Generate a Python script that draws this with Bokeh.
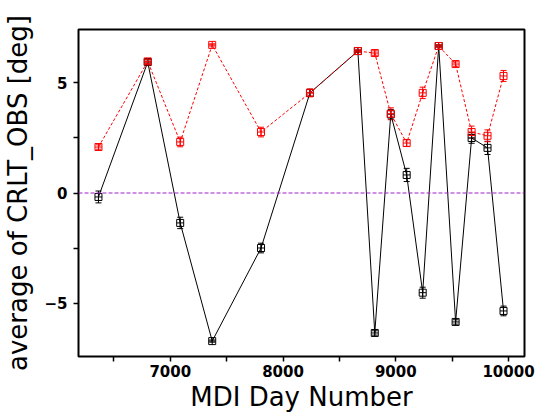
from bokeh.plotting import figure
from bokeh.models import ColumnDataSource, Whisker, TeeHead, Span, FixedTicker
from bokeh.embed import file_html
from bokeh.resources import INLINE

# Data
mdi_day = [6363, 6800, 7088, 7372, 7805, 8239, 8664, 8814, 8956, 9097,
           9239, 9381, 9531, 9673, 9814, 9956]
crlt_mean = [-0.18, 5.95, -1.36, -6.73, -2.50, 4.55, 6.45, -6.36, 3.58, 0.82,
             -4.53, 6.68, -5.86, 2.50, 2.05, -5.36]
crlt_mean_err = [0.27, 0.10, 0.26, 0.05, 0.22, 0.15, 0.05, 0.10, 0.22, 0.30,
                 0.25, 0.05, 0.10, 0.24, 0.30, 0.22]
crlt_abs = [2.09, 5.98, 2.32, 6.73, 2.77, 4.55, 6.45, 6.36, 3.60, 2.27,
            4.55, 6.68, 5.86, 2.77, 2.60, 5.32]
crlt_abs_err = [0.10, 0.10, 0.22, 0.05, 0.22, 0.18, 0.05, 0.10, 0.27, 0.15,
                0.26, 0.05, 0.10, 0.27, 0.27, 0.25]

x_major = [7000, 8000, 9000, 10000]
x_minor = [6500, 7500, 8500, 9500]
y_major = [-5, 0, 5]
y_minor = [-2.5, 2.5]

blk = ColumnDataSource(dict(
    x=mdi_day, y=crlt_mean,
    lo=[v - e for v, e in zip(crlt_mean, crlt_mean_err)],
    hi=[v + e for v, e in zip(crlt_mean, crlt_mean_err)]))
red = ColumnDataSource(dict(
    x=mdi_day, y=crlt_abs,
    lo=[v - e for v, e in zip(crlt_abs, crlt_abs_err)],
    hi=[v + e for v, e in zip(crlt_abs, crlt_abs_err)]))

p = figure(width=551, height=416, x_range=(6186, 10142), y_range=(-7.43, 7.43),
           output_backend="svg", toolbar_location=None,
           min_border_left=78, min_border_right=27, min_border_top=29,
           min_border_bottom=60)
p.background_fill_color = "white"
p.border_fill_color = "white"
p.outline_line_color = "black"
p.outline_line_width = 2
p.xgrid.visible = False
p.ygrid.visible = False

p.add_layout(Span(location=0, dimension="width", line_color="#a020c8",
                  line_dash="4 2", line_width=1.2))

# black series
p.line("x", "y", source=blk, line_color="black", line_width=1)
p.add_layout(Whisker(source=blk, base="x", lower="lo", upper="hi",
                     dimension="height", line_color="black", line_width=1,
                     lower_head=TeeHead(size=6, line_color="black", line_width=1),
                     upper_head=TeeHead(size=6, line_color="black", line_width=1)))
p.scatter("x", "y", source=blk, marker="square_cross", size=7,
          line_color="black", fill_color=None, line_width=1)

# red series
p.line("x", "y", source=red, line_color="red", line_width=1, line_dash="3 2")
p.add_layout(Whisker(source=red, base="x", lower="lo", upper="hi",
                     dimension="height", line_color="red", line_width=1,
                     lower_head=TeeHead(size=6, line_color="red", line_width=1),
                     upper_head=TeeHead(size=6, line_color="red", line_width=1)))
p.scatter("x", "y", source=red, marker="square_cross", size=7,
          line_color="red", fill_color=None, line_width=1)

for ax, maj, mnr in ((p.xaxis[0], x_major, x_minor), (p.yaxis[0], y_major, y_minor)):
    ax.ticker = FixedTicker(ticks=maj, minor_ticks=mnr)
    ax.axis_line_color = None
    ax.major_tick_in = 0
    ax.major_tick_out = 5
    ax.minor_tick_in = 0
    ax.minor_tick_out = 5
    ax.major_tick_line_color = "black"
    ax.minor_tick_line_color = "black"
    ax.major_tick_line_width = 1.5
    ax.minor_tick_line_width = 1.5
    ax.major_label_text_font = "DejaVu Sans"
    ax.major_label_text_font_style = "bold"
    ax.major_label_text_font_size = "15px"
    ax.major_label_text_color = "black"
    ax.axis_label_text_font = "DejaVu Sans"
    ax.axis_label_text_font_style = "normal"
    ax.axis_label_text_font_size = "26px"
    ax.axis_label_text_color = "black"

p.xaxis.axis_label = "MDI Day Number"
p.yaxis.axis_label = "average of CRLT_OBS [deg]"
p.xaxis.major_label_standoff = 3
p.xaxis.axis_label_standoff = 2
p.yaxis.major_label_standoff = 6
p.yaxis.axis_label_standoff = 8

open("out.html", "w").write(file_html(p, INLINE))
